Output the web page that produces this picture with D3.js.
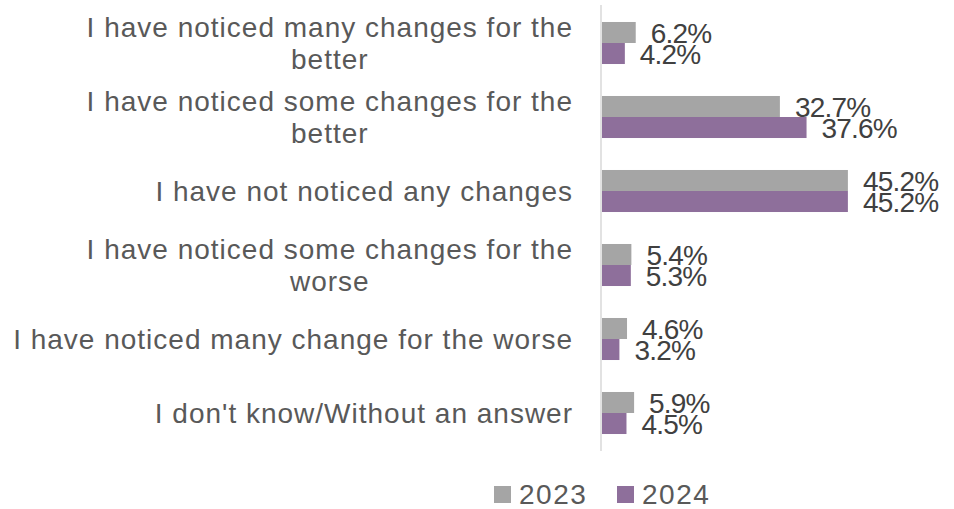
<!DOCTYPE html>
<html><head><meta charset="utf-8">
<script src="https://cdn.jsdelivr.net/npm/d3@7"></script>
<style>body{margin:0;background:#fff}svg{display:block}</style>
</head><body>
<svg id="c" width="954" height="509"></svg>
<script>
const categories = [
  ["I have noticed many changes for the", "better"],
  ["I have noticed some changes for the", "better"],
  ["I have not noticed any changes"],
  ["I have noticed some changes for the", "worse"],
  ["I have noticed many change for the worse"],
  ["I don't know/Without an answer"]
];
const series = ["2023", "2024"];
const values2023 = [6.2, 32.7, 45.2, 5.4, 4.6, 5.9];
const values2024 = [4.2, 37.6, 45.2, 5.3, 3.2, 4.5];
const colors = ["#a5a5a5", "#8e6f9b"];

const svg = d3.select("#c");
const font = "'Liberation Sans', Arial, sans-serif";
const x = d3.scaleLinear().domain([0, 50]).range([601, 873]);
const y = d3.scaleBand().domain(d3.range(categories.length)).range([6, 450]).paddingInner(0.432).paddingOuter(0.216);
const ySub = d3.scaleBand().domain(series).range([0, y.bandwidth()]);
const data = [values2023, values2024];

const g = svg.append("g");
categories.forEach((cat, i) => {
  series.forEach((s, j) => {
    const v = data[j][i];
    g.append("rect")
      .attr("x", x(0) + 1).attr("y", y(i) + ySub(s))
      .attr("width", x(v) - x(0)).attr("height", ySub.bandwidth())
      .attr("fill", colors[j]);
  });
});
// axis line
svg.append("line").attr("x1", x(0)).attr("x2", x(0)).attr("y1", 5).attr("y2", 451)
  .attr("stroke", "#d9d9d9").attr("stroke-width", 1.5);

// value labels
categories.forEach((cat, i) => {
  series.forEach((s, j) => {
    const v = data[j][i];
    svg.append("text")
      .attr("x", x(v) + 16).attr("y", y(i) + ySub(s) + ySub.bandwidth() / 2 + 1)
      .attr("dominant-baseline", "central")
      .attr("font-family", font).attr("font-size", 28).attr("fill", "#404040")
      .attr("letter-spacing", -0.8)
      .text(v.toFixed(1) + "%");
  });
});

// category labels
const rightEdge = 573;
const lh = 32;
categories.forEach((lines, i) => {
  const cy = y(i) + y.bandwidth() / 2;
  const t = svg.append("text").attr("font-family", font).attr("font-size", 28).attr("fill", "#595959")
    .attr("letter-spacing", 1).attr("text-anchor", "middle");
  const spans = lines.map((ln, k) => t.append("tspan").attr("x", 0)
    .attr("y", cy + (k - (lines.length - 1) / 2) * lh).attr("dominant-baseline", "central").text(ln));
  const w = d3.max(spans, sp => sp.node().getComputedTextLength());
  spans.forEach(sp => sp.attr("x", rightEdge - w / 2));
});

// legend
const legX = [494, 617];
series.forEach((s, j) => {
  svg.append("rect").attr("x", legX[j]).attr("y", 486).attr("width", 17).attr("height", 17).attr("fill", colors[j]);
  svg.append("text").attr("x", legX[j] + 25).attr("y", 494.5).attr("dominant-baseline", "central")
    .attr("font-family", font).attr("font-size", 28).attr("letter-spacing", 1.5).attr("fill", "#595959").text(s);
});
</script>
</body></html>
